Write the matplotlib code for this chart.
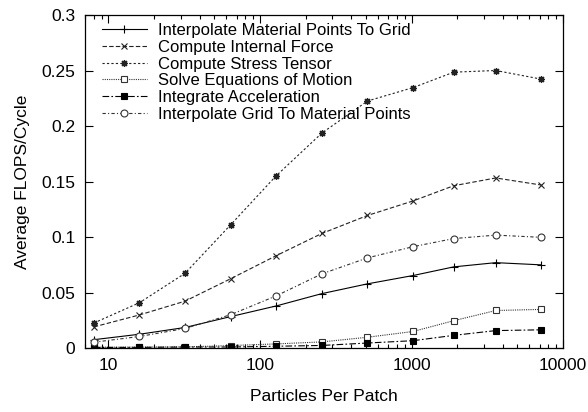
import numpy as np
import matplotlib
matplotlib.use("Agg")
import matplotlib.pyplot as plt
from matplotlib.ticker import FixedLocator, FuncFormatter, LogLocator, NullFormatter

# particles per patch (x values)
particles = [8, 16, 32, 64, 128, 256, 512, 1024, 1900, 3600, 7200]

# average FLOPS/cycle per task
interp_mp_to_grid = [0.0075, 0.0124, 0.0185, 0.0283, 0.0379, 0.049, 0.0578, 0.0653, 0.0731, 0.0769, 0.0749]
internal_force = [0.019, 0.0298, 0.0422, 0.0624, 0.0832, 0.1032, 0.1194, 0.1325, 0.1462, 0.1532, 0.1468]
stress_tensor = [0.0225, 0.0408, 0.0673, 0.111, 0.1552, 0.1936, 0.2225, 0.2346, 0.2485, 0.25, 0.2422]
solve_motion = [0.0007, 0.0008, 0.001, 0.0022, 0.0037, 0.0055, 0.0097, 0.0149, 0.0246, 0.0338, 0.0348]
integrate_acc = [0.0005, 0.0006, 0.0009, 0.0009, 0.0016, 0.0023, 0.0045, 0.0066, 0.0114, 0.0157, 0.0164]
interp_grid_to_mp = [0.0052, 0.0104, 0.0176, 0.030, 0.047, 0.0668, 0.0812, 0.0913, 0.0986, 0.1017, 0.0997]

labels = ["Interpolate Material Points To Grid", "Compute Internal Force",
          "Compute Stress Tensor", "Solve Equations of Motion",
          "Integrate Acceleration", "Interpolate Grid To Material Points"]

plt.rcParams['font.family'] = ['Liberation Sans', 'DejaVu Sans']
fs = 12.5
plt.rcParams['font.size'] = fs

fig = plt.figure(figsize=(5.88, 4.12), dpi=100)
ax = fig.add_axes([0.1446, 0.1553, 0.8129, 0.8083])

lw = 0.8
ax.plot(particles, interp_mp_to_grid, color='black', lw=lw, ls='-',
        marker='+', ms=6, mew=0.8, label=labels[0])
ax.plot(particles, internal_force, color='#222222', lw=lw, ls=(0, (4, 2)),
        marker='x', ms=5, mew=0.8, label=labels[1])
ax.plot(particles, stress_tensor, color='#222222', lw=lw, ls=(0, (2, 2)),
        marker=(8, 2, 0), ms=5, mew=0.9, label=labels[2])
ax.plot(particles, solve_motion, color='#333333', lw=lw, ls=(0, (1, 1)),
        marker='s', ms=5, mfc='white', mew=0.8, label=labels[3])
ax.plot(particles, integrate_acc, color='black', lw=lw, ls=(0, (6, 2, 1.5, 2)),
        marker='s', ms=5, mfc='black', mew=0.8, label=labels[4])
ax.plot(particles, interp_grid_to_mp, color='#333333', lw=lw, ls=(0, (3, 2, 1, 2)),
        marker='o', ms=5, mfc='white', mew=0.8, label=labels[5])

ax.set_xscale('log')
ax.set_xlim(7, 10000)
ax.set_ylim(0, 0.3)
ax.xaxis.set_major_locator(FixedLocator([10, 100, 1000, 10000]))
ax.xaxis.set_major_formatter(FuncFormatter(lambda v, p: "%d" % v))
ax.xaxis.set_minor_locator(LogLocator(base=10, subs=np.arange(2, 10)))
ax.xaxis.set_minor_formatter(NullFormatter())
ax.yaxis.set_major_locator(FixedLocator([0, 0.05, 0.1, 0.15, 0.2, 0.25, 0.3]))
ax.yaxis.set_major_formatter(FuncFormatter(lambda v, p: "%g" % v))

ax.tick_params(which='both', direction='in', top=True, right=True, labelsize=fs)
ax.tick_params(which='major', length=6, width=0.8, pad=7)
ax.tick_params(which='minor', length=3, width=0.8)
for s in ax.spines.values():
    s.set_linewidth(0.9)

ax.set_xlabel("Particles Per Patch", labelpad=12)
ax.set_ylabel("Average FLOPS/Cycle", labelpad=8)

ax.legend(loc='upper left', bbox_to_anchor=(0.035, 0.975), frameon=False,
          borderpad=0, borderaxespad=0, handlelength=2.7, handletextpad=0.7,
          labelspacing=0.1, fontsize=12)

fig.savefig("out.png", dpi=100)
